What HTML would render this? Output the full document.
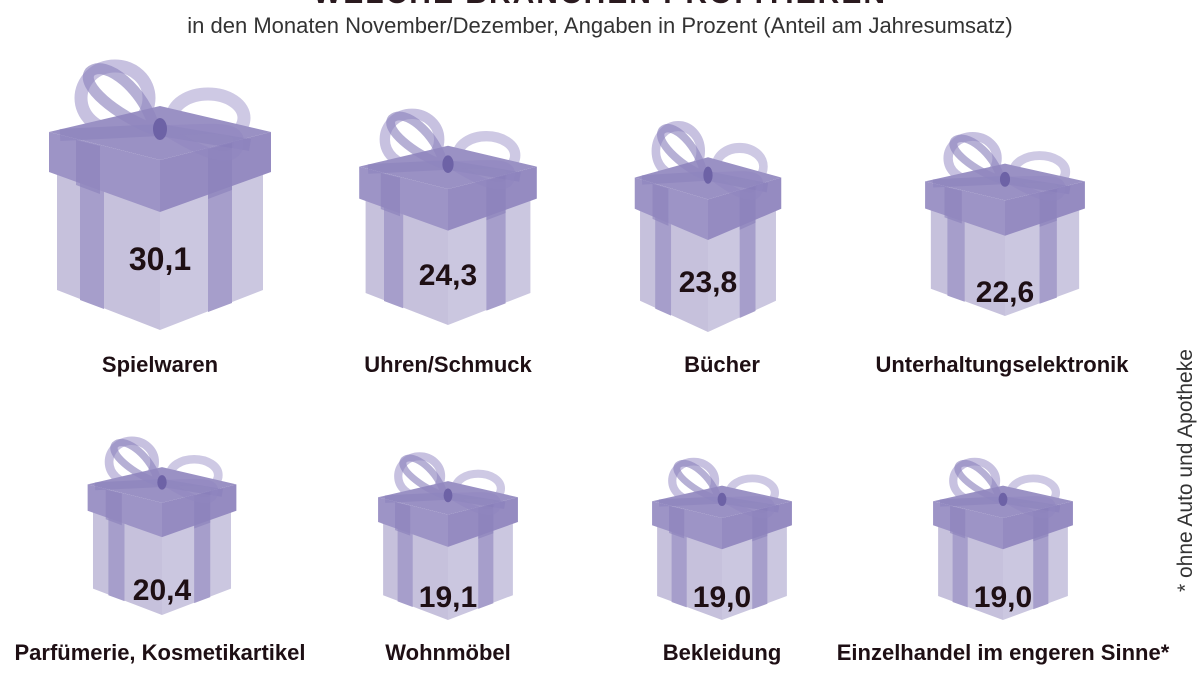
<!DOCTYPE html>
<html><head><meta charset="utf-8"><style>
html,body{margin:0;padding:0;background:#fff;}
body{width:1200px;height:675px;overflow:hidden;position:relative;font-family:"Liberation Sans",sans-serif;}
</style></head><body>
<svg width="1200" height="675" viewBox="0 0 1200 675" xmlns="http://www.w3.org/2000/svg">
<defs>
<g id="box">
  <ellipse cx="-45" cy="-232" rx="34" ry="32" fill="none" stroke="#b9b2d8" stroke-width="13" opacity="0.8"/>
  <ellipse cx="48" cy="-212" rx="36" ry="24" fill="none" stroke="#c2bcdd" stroke-width="13" opacity="0.8"/>
  <polygon points="-103,-158 0,-120 0,0 -103,-40" fill="#c6c1dc"/>
  <polygon points="0,-120 103,-158 103,-40 0,0" fill="#cbc7e0"/>
  <polygon points="-80,-150 -56,-141 -56,-21 -80,-30" fill="#a69ecb"/>
  <polygon points="48,-138 72,-147 72,-27 48,-18" fill="#a69ecb"/>
  <polygon points="-111,-198 0,-224 111,-198 0,-170" fill="#9a91c4"/>
  <polygon points="-111,-198 0,-170 0,-118 -111,-158" fill="#9d94c6"/>
  <polygon points="0,-170 111,-198 111,-158 0,-118" fill="#958bc1"/>
  <polygon points="-84,-190 -60,-184 -60,-136 -84,-145" fill="#8b81bb" opacity="0.6"/>
  <polygon points="48,-181 72,-187 72,-140 48,-131" fill="#8b81bb" opacity="0.6"/>
  <path d="M-100,-195 L0,-200 L90,-185" fill="none" stroke="#857bb8" stroke-width="12" opacity="0.4"/>
  <path d="M-5,-200 C-45,-215 -80,-245 -70,-258 C-55,-272 -15,-240 -5,-200" fill="none" stroke="#8f86bf" stroke-width="11" opacity="0.65"/>
  <path d="M5,-200 C50,-200 85,-208 78,-182 C70,-165 40,-178 5,-200" fill="none" stroke="#8f86bf" stroke-width="10" opacity="0.5"/>
  <ellipse cx="0" cy="-201" rx="7" ry="11" fill="#6d62a6"/>
</g>
</defs>
<text x="600" y="3" text-anchor="middle" font-family="Liberation Sans" font-weight="bold" font-size="30" fill="#2a1a1f" letter-spacing="2">WELCHE BRANCHEN PROFITIEREN</text>
<text x="600" y="33" text-anchor="middle" font-size="22" fill="#333">in den Monaten November/Dezember, Angaben in Prozent (Anteil am Jahresumsatz)</text>

<g transform="translate(160,330) scale(1,1)"><use href="#box"/></g>
<g transform="translate(448,325) scale(0.8,0.8)"><use href="#box"/></g>
<g transform="translate(708,332) scale(0.66,0.78)"><use href="#box"/></g>
<g transform="translate(1005,316) scale(0.72,0.68)"><use href="#box"/></g>
<g transform="translate(162,615) scale(0.67,0.66)"><use href="#box"/></g>
<g transform="translate(448,620) scale(0.63,0.62)"><use href="#box"/></g>
<g transform="translate(722,620) scale(0.63,0.6)"><use href="#box"/></g>
<g transform="translate(1003,620) scale(0.63,0.6)"><use href="#box"/></g>

<g font-family="Liberation Sans" font-weight="bold" fill="#1e0f14" text-anchor="middle">
<text x="160" y="270" font-size="32">30,1</text>
<text x="448" y="285" font-size="30">24,3</text>
<text x="708" y="292" font-size="30">23,8</text>
<text x="1005" y="302" font-size="30">22,6</text>
<text x="162" y="600" font-size="30">20,4</text>
<text x="448" y="607" font-size="30">19,1</text>
<text x="722" y="607" font-size="30">19,0</text>
<text x="1003" y="607" font-size="30">19,0</text>
<g font-size="22">
<text x="160" y="372">Spielwaren</text>
<text x="448" y="372">Uhren/Schmuck</text>
<text x="722" y="372">Bücher</text>
<text x="1002" y="372">Unterhaltungselektronik</text>
<text x="160" y="660">Parfümerie, Kosmetikartikel</text>
<text x="448" y="660">Wohnmöbel</text>
<text x="722" y="660">Bekleidung</text>
<text x="1003" y="660">Einzelhandel im engeren Sinne*</text>
</g>
</g>
<text transform="translate(1192,592) rotate(-90)" font-size="21" fill="#333">* ohne Auto und Apotheke</text>
</svg>
</body></html>
